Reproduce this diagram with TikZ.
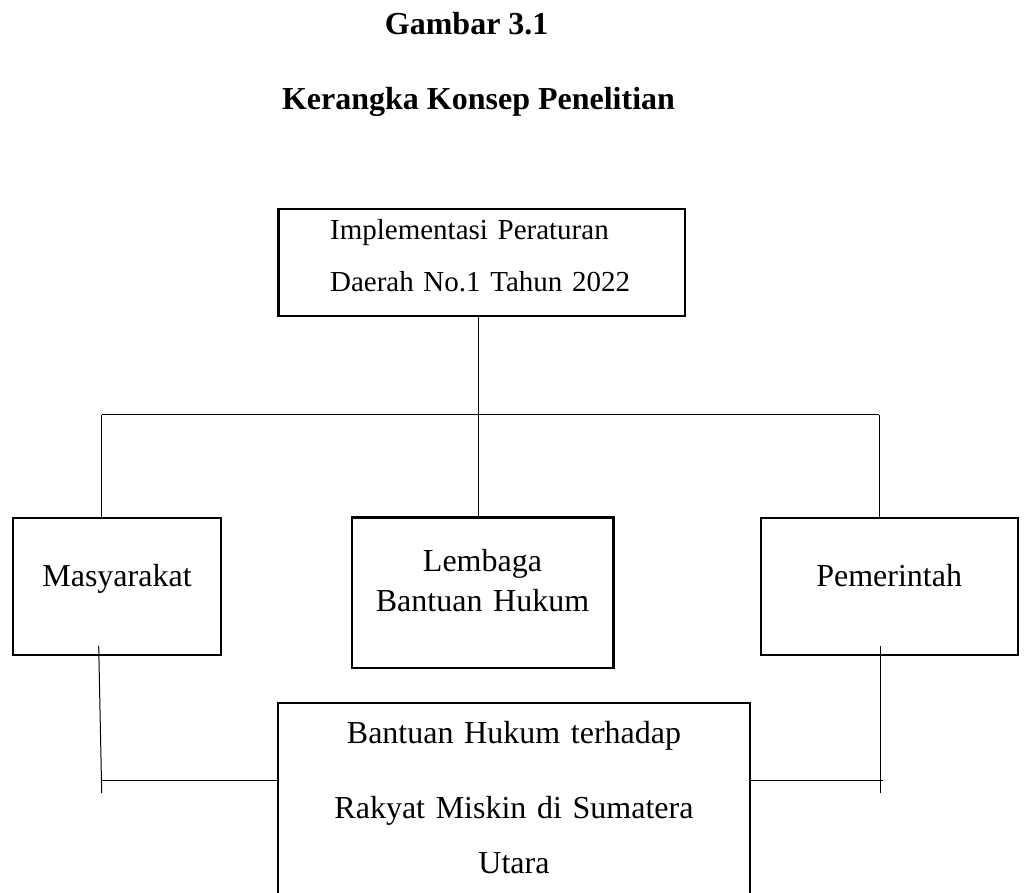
\documentclass[tikz,border=0pt]{standalone}
\usepackage{fontspec}
\setmainfont{Liberation Serif}

\begin{document}
\begin{tikzpicture}[x=0.5pt,y=-0.5pt,
        kotak/.style={draw,line width=1.2pt,inner sep=0pt,align=center,font=\fontsize{16}{20}\selectfont},
        garis/.style={line width=0.5pt}]
    \useasboundingbox (0,0) rectangle (1024,893);

    \node[anchor=base,font=\fontsize{16}{20}\selectfont\bfseries] (judul) at (466.7,35) {Gambar 3.1};
    \node[anchor=base,font=\fontsize{16}{20}\selectfont\bfseries] (subjudul) at (478.5,110) {Kerangka Konsep Penelitian};

    \node[kotak,align=left,inner xsep=25.85pt,text width=151.6pt,text height=15.5pt,text depth=38pt,
          font=\fontsize{14.5}{26}\selectfont] (impl) at (481.7,262.5)
          {Implementasi Peraturan\\Daerah No.1 Tahun 2022};

    \node[kotak,text width=104pt,text height=34.35pt,text depth=34.15pt] (mas) at (117,586.5) {Masyarakat};
    \node[kotak,text width=130.8pt,text height=27pt,text depth=48.15pt] (lbh) at (482.5,592.85) {Lembaga\\Bantuan Hukum};
    \node[kotak,text width=128.5pt,text height=34.35pt,text depth=34.15pt] (pem) at (889.2,586.5) {Pemerintah};

    \node[kotak,text width=236pt,text height=20pt,text depth=81pt,font=\fontsize{16}{27.5}\selectfont] (hasil) at (514,804)
          {Bantuan Hukum terhadap\\[10pt]Rakyat Miskin di Sumatera\\Utara};

    % cabang atas
    \coordinate (kiri) at (101.7,415);
    \coordinate (tengah) at (478,415);
    \coordinate (kanan) at (879.3,415);
    \draw[garis] (tengah |- impl.south) -- (tengah |- lbh.north);
    \draw[garis] (kiri) -- (kanan);
    \draw[garis] (kiri) -- (kiri |- mas.north);
    \draw[garis] (kanan) -- (kanan |- pem.north);

    % cabang bawah
    \coordinate (mas-a) at (98.7,646);
    \coordinate (mas-b) at (101.7,793);
    \coordinate (kb) at (101.7,780);
    \draw[garis] (mas-a) -- (mas-b);
    \draw[garis] (kb) -- (kb -| hasil.west);

    \coordinate (pem-a) at (880,646);
    \coordinate (pem-b) at (880,793);
    \coordinate (kn) at (882.7,780);
    \draw[garis] (pem-a) -- (pem-b);
    \draw[garis] (kn -| hasil.east) -- (kn);
\end{tikzpicture}
\end{document}
